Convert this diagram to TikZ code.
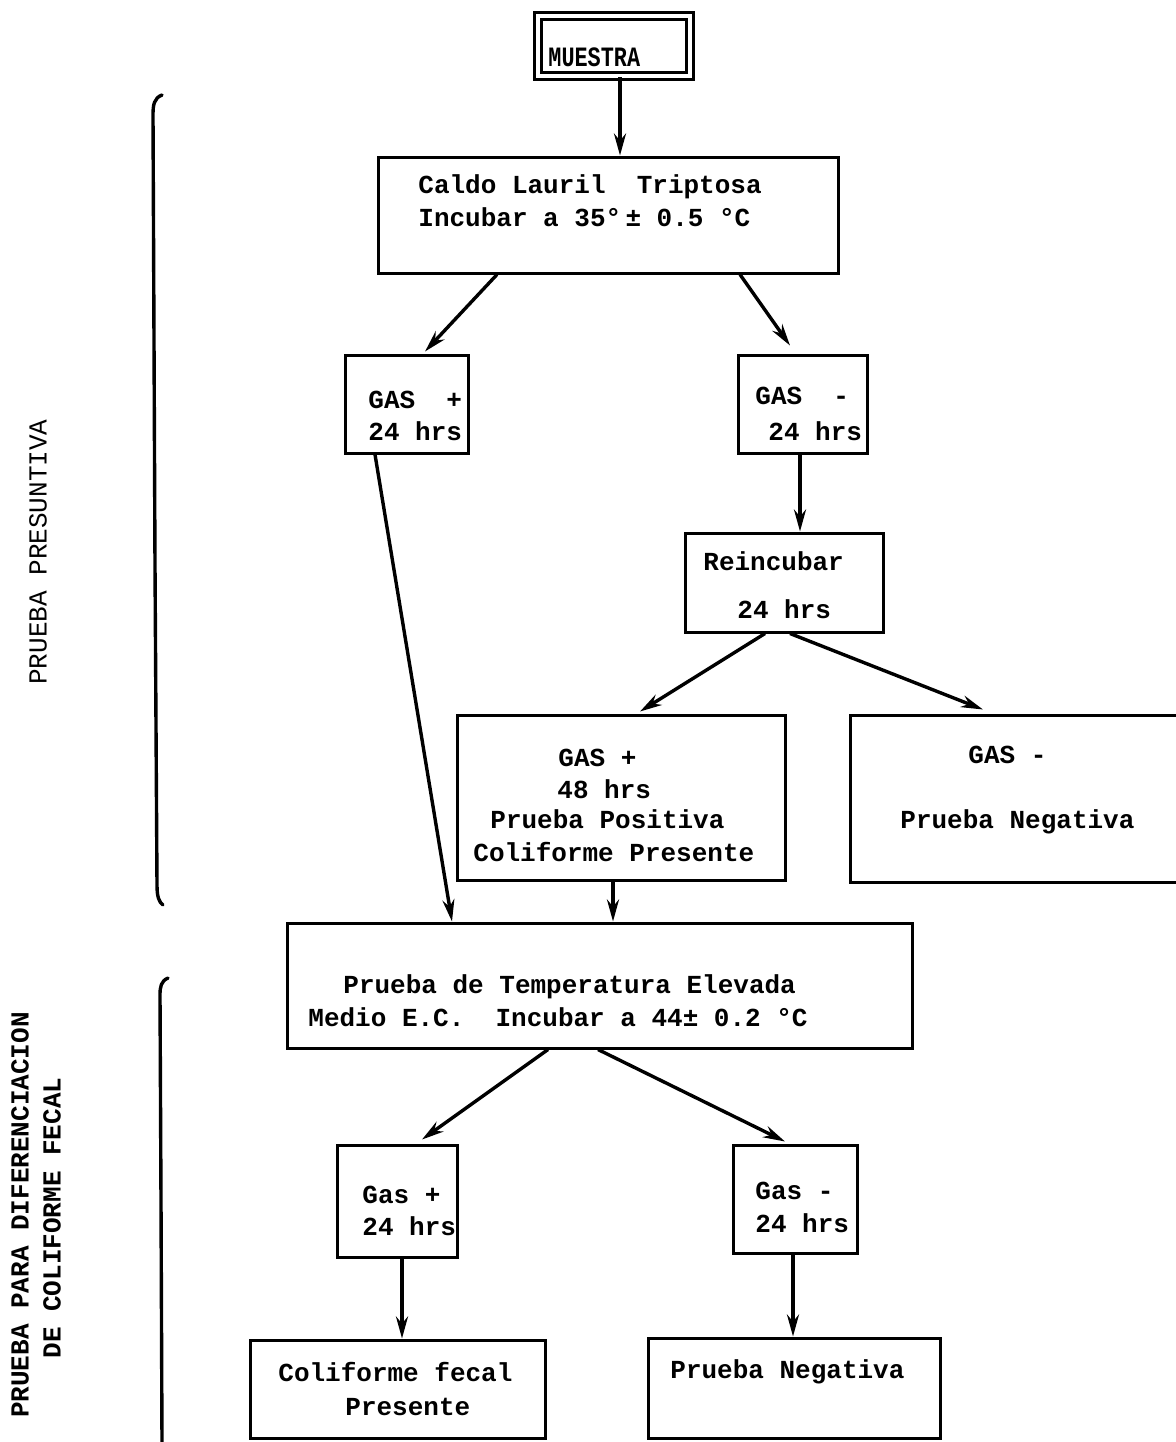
\documentclass[tikz,border=0pt]{standalone}
\usepackage{fontspec}
\setmainfont{Liberation Mono}
\usetikzlibrary{arrows.meta,calc}
\tikzset{
  boxnode/.style={draw=black,line width=1.5pt,rectangle,inner sep=0pt},
  txt/.style={anchor=base west,inner sep=0pt,font=\fontsize{13pt}{15pt}\selectfont\bfseries},
  sidelabel/.style={rotate=90,inner sep=0pt,font=\fontsize{13pt}{15pt}\selectfont},
  sidelabelb/.style={rotate=90,inner sep=0pt,font=\fontsize{13pt}{15pt}\selectfont\bfseries},
  conn/.style={line width=1.7pt,-{Stealth[length=11pt,width=6pt]}},
  brace/.style={line width=1.7pt,line cap=round}
}
\newcommand{\bx}[5]{\node[boxnode,minimum width=#3*0.5pt-#2*0.5pt,minimum height=#5*0.5pt-#4*0.5pt] (#1) at ({(#2+#3)/2},{(#4+#5)/2}) {};}
\begin{document}
\begin{tikzpicture}[x=0.5pt,y=-0.5pt]
\useasboundingbox (0,0) rectangle (1175,1442);
\fill[white] (0,0) rectangle (1175,1442);

% boxes
\node[draw=black,line width=1.4pt,double,double distance=2pt,minimum width=82pt-6pt,minimum height=36pt-6pt,inner sep=0pt] (muestra) at (614,46) {};
\bx{caldo}{378}{838}{157}{273}
\bx{gasp1}{345}{468}{355}{453}
\bx{gasm1}{738}{867}{355}{453}
\bx{reinc}{685}{883}{533}{632}
\bx{pos48}{457}{785}{715}{880}
\bx{neg48}{850}{1200}{715}{882}
\bx{temp}{287}{912}{923}{1048}
\bx{gasp2}{337}{457}{1145}{1257}
\bx{gasm2}{733}{857}{1145}{1253}
\bx{colif}{250}{545}{1340}{1438}
\bx{pneg}{648}{940}{1338}{1438}

% texts
\node[txt,font=\fontsize{14pt}{16pt}\selectfont\bfseries] (tmu) at (548,66) {\scalebox{0.78}[1]{MUESTRA}};
\node[txt] (tc1) at (418,193) {Caldo Lauril\ \ Triptosa};
\node[txt] (tc2) at (418,226) {Incubar a 35°\,± 0.5 °C};
\node[txt] (tg1a) at (368,408) {GAS\ \ +};
\node[txt] (tg1b) at (368,440) {24 hrs};
\node[txt] (tg2a) at (755,404) {GAS\ \ -};
\node[txt] (tg2b) at (768,440) {24 hrs};
\node[txt] (tra) at (703,570) {Reincubar};
\node[txt] (trb) at (737,618) {24 hrs};
\node[txt] (tpa) at (558,766) {GAS +};
\node[txt] (tpb) at (557,798) {48 hrs};
\node[txt] (tpc) at (490,828) {Prueba Positiva};
\node[txt] (tpd) at (473,861) {Coliforme Presente};
\node[txt] (tna) at (968,763) {GAS -};
\node[txt] (tnb) at (900,828) {Prueba Negativa};
\node[txt] (tta) at (343,993) {Prueba de Temperatura Elevada};
\node[txt] (ttb) at (308,1026) {Medio E.C.\ \ Incubar a 44± 0.2 °C};
\node[txt] (tga) at (362,1203) {Gas +};
\node[txt] (tgb) at (362,1235) {24 hrs};
\node[txt] (tgc) at (755,1199) {Gas -};
\node[txt] (tgd) at (755,1232) {24 hrs};
\node[txt] (tca) at (278,1381) {Coliforme fecal};
\node[txt] (tcb) at (345,1415) {Presente};
\node[txt] (tpn) at (670,1378) {Prueba Negativa};

% side labels
\node[sidelabel] (lab1) at (38,552) {PRUEBA PRESUNTIVA};
\node[sidelabelb] (lab2) at (20,1215) {PRUEBA PARA DIFERENCIACION};
\node[sidelabelb] (lab3) at (52,1218) {DE COLIFORME FECAL};

% brackets
\draw[brace] (162,95) .. controls (154,98) and (153,105) .. (153,115) -- (155,565) -- (157,885) .. controls (157,897) and (159,902) .. (163,905);
\draw[brace] (168,978) .. controls (161,981) and (160,987) .. (160,995) -- (161,1200) -- (162,1442);

% connectors
\draw[conn] (muestra.south -| 620,0) -- (caldo.north -| 620,0);
\draw[conn] (caldo.south -| 497,0) -- ([yshift=1pt]gasp1.north -| 425,0);
\draw[conn] (caldo.south -| 740,0) -- ([yshift=4pt]gasm1.north -| 790,0);
\draw[conn] (gasp1.south -| 375,0) -- (temp.north -| 452,0);
\draw[conn] (gasm1.south -| 800,0) -- (reinc.north -| 800,0);
\draw[conn] (reinc.south -| 765,0) -- ([yshift=1pt]pos48.north -| 640,0);
\draw[conn] (reinc.south -| 790,0) -- ([yshift=2pt]neg48.north -| 983,0);
\draw[conn] (pos48.south -| 613,0) -- (temp.north -| 613,0);
\draw[conn] (temp.south -| 548,0) -- ([yshift=2pt]gasp2.north -| 422,0);
\draw[conn] (temp.south -| 598,0) -- ([yshift=1pt]gasm2.north -| 785,0);
\draw[conn] (gasp2.south -| 402,0) -- (colif.north -| 402,0);
\draw[conn] (gasm2.south -| 793,0) -- (pneg.north -| 793,0);
\end{tikzpicture}
\end{document}
